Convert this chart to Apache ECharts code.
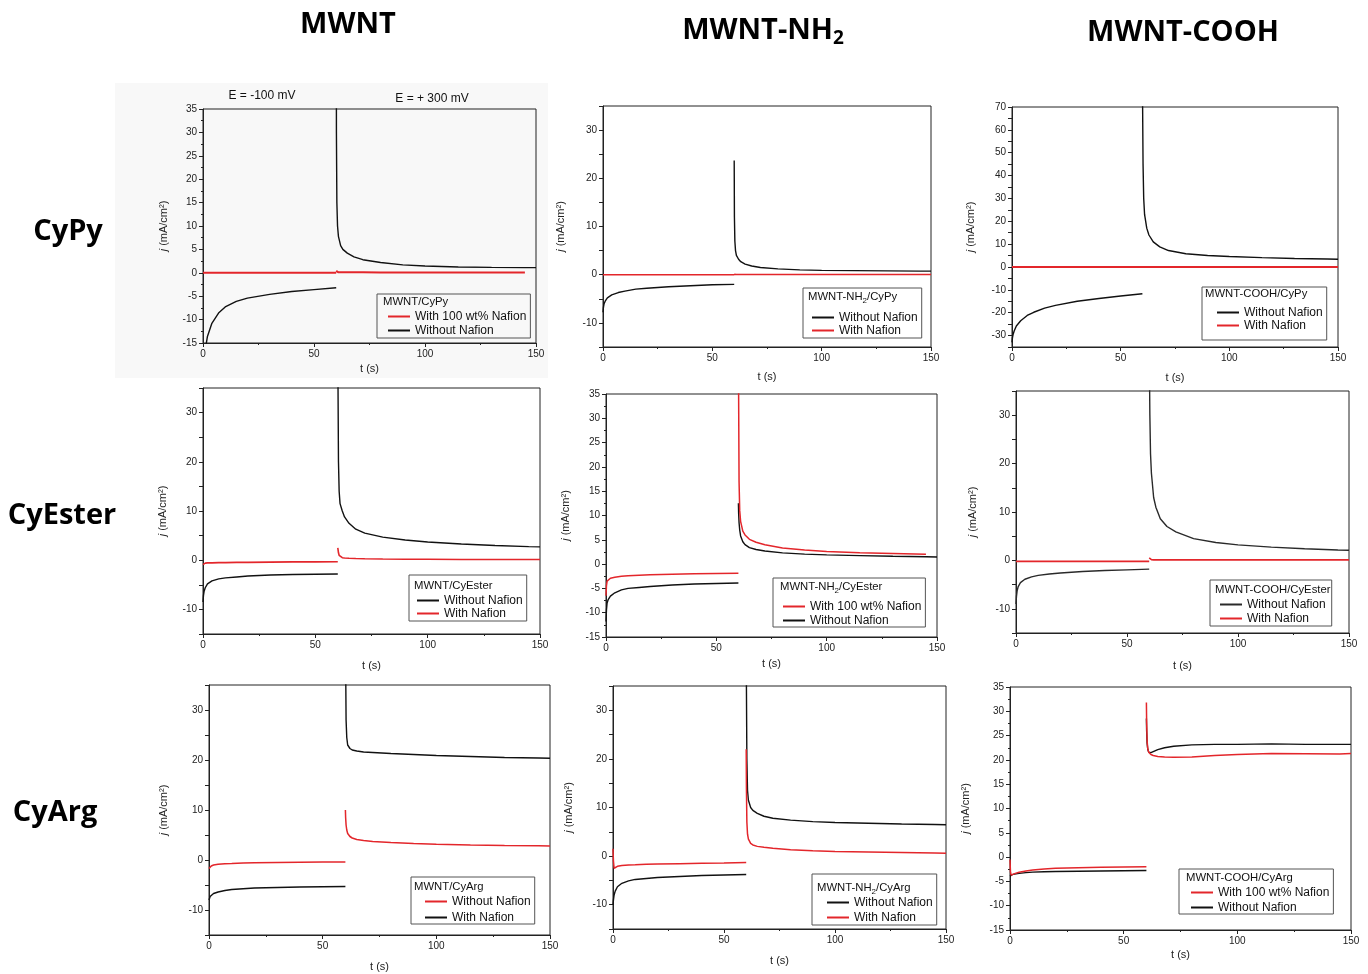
<!DOCTYPE html>
<html><head><meta charset="utf-8">
<script src="https://cdn.jsdelivr.net/npm/echarts@6/dist/echarts.min.js"></script>
<style>html,body{margin:0;padding:0;background:#fff}#c{width:1368px;height:974px}</style>
</head><body><div id="c"></div>
<script>
// ---------- data ----------
const xTicks = [0, 50, 100, 150];
const tPre  = [0, 0.2, 0.5, 1, 2, 4, 7, 10, 15, 20, 30, 40, 50, 60];
const tPost = [60, 60.1, 60.3, 60.6, 61, 62, 63, 65, 68, 72, 80, 90, 100, 115, 130, 145, 150];

// MWNT / CyPy
const p1BlackPre  = [-30, -22, -19, -16.5, -13.6, -10.8, -8.6, -7.3, -6.1, -5.4, -4.6, -4.0, -3.6, -3.2];
const p1BlackPost = [80, 30, 15, 10, 7.8, 5.8, 5.0, 4.2, 3.4, 2.8, 2.2, 1.7, 1.45, 1.25, 1.15, 1.1, 1.1];
const p1RedPre    = [0, 0, 0, 0, 0, 0, 0, 0, 0, 0, 0, 0, 0, 0];
const p1RedPost   = [0.4, 0.3, 0.2, 0.15, 0.1, 0.1, 0.1, 0.1, 0.1, 0.1, 0.05, 0.05, 0.05, 0.05, 0.05, 0.05, null];
// MWNT-NH2 / CyPy
const p2BlackPre  = [-7.8, -6.8, -6.0, -5.5, -4.8, -4.2, -3.7, -3.4, -3.0, -2.8, -2.5, -2.3, -2.1, -2.0];
const p2BlackPost = [23.7, 12, 7, 5.0, 4.0, 3.2, 2.7, 2.2, 1.8, 1.5, 1.2, 1.0, 0.9, 0.85, 0.8, 0.75, 0.75];
const p2RedPre    = [0, 0, 0, 0, 0, 0, 0, 0, 0, 0, 0, 0, 0, 0];
const p2RedPost   = [0.1, 0.1, 0.05, 0.05, 0.05, 0.05, 0.05, 0.05, 0.05, 0.05, 0.05, 0.05, 0.05, 0.05, 0.05, 0.05, 0.05];
// MWNT-COOH / CyPy
const p3BlackPre  = [-33, -31, -29.5, -28, -25.8, -23.5, -21.2, -19.8, -18, -16.8, -15, -13.8, -12.7, -11.7];
const p3BlackPost = [110, 70, 45, 30, 23, 17, 14, 11, 8.8, 7.2, 5.8, 5.0, 4.6, 4.1, 3.7, 3.5, 3.4];
const p3RedPre    = [0, 0, 0, 0, 0, 0, 0, 0, 0, 0, 0, 0, 0, 0];
const p3RedPost   = [0, 0, 0, 0, 0, 0, 0, 0, 0, 0, 0, 0, 0, 0, 0, 0, 0];
// MWNT / CyEster
const p4BlackPre  = [-8.5, -7.2, -6.3, -5.6, -4.8, -4.2, -3.8, -3.6, -3.4, -3.2, -3.0, -2.9, -2.85, -2.8];
const p4BlackPost = [60, 35, 20, 14, 11.5, 10.0, 8.8, 7.5, 6.3, 5.5, 4.7, 4.1, 3.7, 3.3, 3.0, 2.75, 2.7];
const p4RedPre    = [-0.9, -0.7, -0.6, -0.6, -0.55, -0.55, -0.5, -0.5, -0.45, -0.45, -0.4, -0.35, -0.35, -0.3];
const p4RedPost   = [2.5, 2.2, 1.5, 1.0, 0.7, 0.5, 0.45, 0.4, 0.35, 0.3, 0.25, 0.2, 0.2, 0.15, 0.15, 0.15, 0.15];
// MWNT-NH2 / CyEster
const p5RedPre    = [-6.5, -4.5, -3.5, -3.2, -2.9, -2.7, -2.5, -2.4, -2.3, -2.2, -2.1, -2.0, -1.95, -1.9];
const p5RedPost   = [60, 35, 17, 11, 8.8, 6.8, 6.0, 5.1, 4.5, 4.0, 3.3, 2.9, 2.6, 2.35, 2.2, 2.05, null];
const p5BlackPre  = [-11.8, -9.5, -8.0, -7.3, -6.6, -5.9, -5.3, -5.0, -4.8, -4.6, -4.3, -4.1, -4.0, -3.9];
const p5BlackPost = [12.5, 10.5, 8.5, 7.0, 5.8, 4.6, 4.0, 3.4, 3.0, 2.7, 2.3, 2.05, 1.9, 1.75, 1.6, 1.5, 1.45];
// MWNT-COOH / CyEster
const p6BlackPre  = [-9, -7.5, -6.3, -5.4, -4.6, -3.9, -3.4, -3.1, -2.8, -2.6, -2.3, -2.1, -1.95, -1.8];
const p6BlackPost = [60, 40, 30, 22, 18, 13, 11, 8.6, 7.0, 5.9, 4.5, 3.7, 3.2, 2.75, 2.4, 2.15, 2.1];
const p6RedPre    = [-0.2, -0.2, -0.2, -0.2, -0.2, -0.2, -0.2, -0.2, -0.2, -0.2, -0.2, -0.2, -0.2, -0.2];
const p6RedPost   = [0.5, 0.4, 0.3, 0.2, 0.15, 0.1, 0.1, 0.1, 0.1, 0.1, 0.1, 0.1, 0.1, 0.1, 0.1, 0.1, 0.1];
// MWNT / CyArg
const p7RedPre    = [-1.7, -1.5, -1.3, -1.2, -1.0, -0.85, -0.75, -0.7, -0.6, -0.55, -0.5, -0.45, -0.42, -0.4];
const p7RedPost   = [10, 8.5, 7.0, 6.0, 5.3, 4.7, 4.4, 4.1, 3.9, 3.7, 3.5, 3.3, 3.15, 3.0, 2.9, 2.85, 2.8];
const p7BlackPre  = [-8.0, -7.6, -7.3, -7.0, -6.7, -6.4, -6.1, -5.9, -5.75, -5.6, -5.5, -5.4, -5.35, -5.3];
const p7BlackPost = [60, 40, 28, 24.5, 23, 22.3, 22.0, 21.8, 21.6, 21.5, 21.3, 21.1, 20.9, 20.7, 20.5, 20.4, 20.35];
// MWNT-NH2 / CyArg
const p8BlackPre  = [-10, -9, -8, -7.2, -6.3, -5.6, -5.1, -4.8, -4.6, -4.4, -4.2, -4.0, -3.9, -3.8];
const p8BlackPost = [60, 35, 20, 13.5, 11.5, 10.0, 9.4, 8.8, 8.2, 7.8, 7.4, 7.1, 6.9, 6.75, 6.6, 6.5, 6.45];
const p8RedPre    = [1.5, -1.0, -2.5, -2.3, -2.1, -1.95, -1.85, -1.8, -1.7, -1.65, -1.55, -1.45, -1.4, -1.3];
const p8RedPost   = [22, 14, 7, 4.5, 3.5, 2.6, 2.3, 2.0, 1.8, 1.6, 1.3, 1.1, 0.95, 0.85, 0.75, 0.65, 0.6];
// MWNT-COOH / CyArg
const p9RedPre    = [-0.5, -3.0, -3.7, -3.6, -3.4, -3.1, -2.85, -2.65, -2.45, -2.3, -2.2, -2.1, -2.05, -2.0];
const p9RedPost   = [31.8, 28, 24, 22.3, 21.6, 21.1, 20.9, 20.7, 20.6, 20.55, 20.6, 20.9, 21.1, 21.3, 21.25, 21.2, 21.3];
const p9BlackPre  = [-3.9, -3.8, -3.7, -3.6, -3.5, -3.35, -3.2, -3.1, -3.0, -2.95, -2.9, -2.85, -2.8, -2.75];
const p9BlackPost = [28.5, 26, 23.5, 22.2, 21.6, 21.5, 21.7, 22.1, 22.5, 22.8, 23.1, 23.2, 23.2, 23.3, 23.2, 23.2, 23.2];

const colHeaders = ['MWNT', 'MWNT-NH', 'MWNT-COOH'];
const rowHeaders = ['CyPy', 'CyEster', 'CyArg'];

// ---------- styles / layout ----------
const FONT = '"Liberation Sans", Arial, sans-serif';
const HFONT = '"Open Sans", "Noto Sans", sans-serif';
const BLACK = '#111111', RED = '#e3262b', INK = '#222';
const N1 = 'With 100 wt% Nafion', N0 = 'Without Nafion', NW = 'With Nafion';

const panels = [
  {g:[203,109,333,234], y:[-15,35], lab:5,  yGap:34, xGap:20, leg:[377,294,[16,4,1,11],1], lt:[383,302,'MWNT/CyPy'],
   s:[[N1,RED,p1RedPre,p1RedPost,2],[N0,BLACK,p1BlackPre,p1BlackPost,1.4]]},
  {g:[603,106,328,241], y:[-15,35], lab:10, yGap:37, xGap:24, leg:[803,288,[23,4,1,9],0], lt:[808,297,'MWNT-NH','/CyPy'],
   s:[[N0,BLACK,p2BlackPre,p2BlackPost,1.4],[NW,RED,p2RedPre,p2RedPost,1.6]]},
  {g:[1012,107,326,240], y:[-35,70], lab:10, yGap:36, xGap:25, leg:[1202,287,[19,4,8,15],0], lt:[1205,294,'MWNT-COOH/CyPy'],
   s:[[N0,BLACK,p3BlackPre,p3BlackPost,1.4],[NW,RED,p3RedPre,p3RedPost,1.8]]},
  {g:[203,388,337,246], y:[-15,35], lab:10, yGap:35, xGap:26, leg:[409,575,[19,4,1,8],0], lt:[414,586,'MWNT/CyEster'],
   s:[[N0,BLACK,p4BlackPre,p4BlackPost,1.4],[NW,RED,p4RedPre,p4RedPost,1.6]]},
  {g:[606,394,331,243], y:[-15,35], lab:5,  yGap:35, xGap:21, leg:[773,578,[22,4,0,10],1], lt:[780,587,'MWNT-NH','/CyEster'],
   s:[[N1,RED,p5RedPre,p5RedPost,1.5],[N0,BLACK,p5BlackPre,p5BlackPost,1.4]]},
  {g:[1016,391,333,242], y:[-15,35], lab:10, yGap:38, xGap:27, leg:[1210,580,[18,6,1,10],1], lt:[1215,590,'MWNT-COOH/CyEster'],
   s:[[N0,'#2a2a2a',p6BlackPre,p6BlackPost,1.4],[NW,RED,p6RedPre,p6RedPost,1.6]]},
  {g:[209,685,341,250], y:[-15,35], lab:10, yGap:40, xGap:26, leg:[411,877,[18,4,0,14],3], lt:[414,887,'MWNT/CyArg'],
   s:[[N0,RED,p7RedPre,p7RedPost,1.5],[NW,BLACK,p7BlackPre,p7BlackPost,1.4]]},
  {g:[613,686,333,243], y:[-15,35], lab:10, yGap:39, xGap:26, leg:[812,874,[22,4,1,15],2], lt:[817,888,'MWNT-NH','/CyArg'],
   s:[[N0,BLACK,p8BlackPre,p8BlackPost,1.4],[NW,RED,p8RedPre,p8RedPost,1.5]]},
  {g:[1010,687,341,243], y:[-15,35], lab:5,  yGap:39, xGap:19, leg:[1179,869,[17,4,0,12],2], lt:[1186,878,'MWNT-COOH/CyArg'],
   s:[[N1,RED,p9RedPre,p9RedPost,1.5],[N0,BLACK,p9BlackPre,p9BlackPost,1.4]]}
];

function buildData(pre, post) {
  const d = [];
  tPre.forEach((t, i) => d.push([t, pre[i]]));
  d.push([60, null]);
  tPost.forEach((t, i) => { if (post[i] !== null) d.push([t, post[i]]); });
  return d;
}

const grid = [], xAxis = [], yAxis = [], series = [], legend = [], graphics = [];
const tickStyle = {color: INK, width: 1};

panels.forEach((p, i) => {
  grid.push({left: p.g[0], top: p.g[1], width: p.g[2], height: p.g[3], show: true,
    borderColor: INK, borderWidth: 1, backgroundColor: 'transparent'});
  xAxis.push({type: 'value', gridIndex: i, min: xTicks[0], max: xTicks[xTicks.length - 1], interval: xTicks[1] - xTicks[0],
    name: 't (s)', nameLocation: 'middle', nameGap: p.xGap,
    nameTextStyle: {fontSize: 11, color: INK, fontFamily: FONT},
    axisLine: {show: true, onZero: false, lineStyle: tickStyle},
    axisTick: {show: true, length: 4, lineStyle: tickStyle},
    minorTick: {show: true, splitNumber: 2, length: 2, lineStyle: tickStyle},
    splitLine: {show: false},
    axisLabel: {fontSize: 10, color: INK, margin: 6, fontFamily: FONT}});
  yAxis.push({type: 'value', gridIndex: i, min: p.y[0], max: p.y[1], interval: 5,
    name: '{i|j} (mA/cm²)', nameLocation: 'middle', nameRotate: 90, nameGap: p.yGap,
    nameTextStyle: {fontSize: 11, color: INK, fontFamily: FONT,
      rich: {i: {fontStyle: 'italic', fontSize: 11, color: INK, fontFamily: FONT}}},
    axisLine: {show: true, onZero: false, lineStyle: tickStyle},
    axisTick: {show: true, length: 4, lineStyle: tickStyle},
    minorTick: {show: p.lab === 5, splitNumber: 2, length: 2, lineStyle: tickStyle},
    splitLine: {show: false},
    axisLabel: {fontSize: 10, color: INK, margin: 6, fontFamily: FONT,
      formatter: v => (v % p.lab === 0 ? String(v) : '')}});
  // draw black curves below red
  p.s.slice().sort((a, b) => (a[1] === RED) - (b[1] === RED)).forEach(s => {
    series.push({type: 'line', name: s[0], xAxisIndex: i, yAxisIndex: i, data: buildData(s[2], s[3]),
      showSymbol: false, symbol: 'none', connectNulls: false, clip: true, smooth: false,
      lineStyle: {color: s[1], width: s[4]}, itemStyle: {color: s[1]}, z: 2});
  });
  legend.push({left: p.leg[0], top: p.leg[1], orient: 'vertical', padding: p.leg[2], itemGap: p.leg[3],
    itemWidth: 22, itemHeight: 2, icon: 'rect', selectedMode: false,
    borderColor: '#555', borderWidth: 1, backgroundColor: 'transparent',
    textStyle: {fontSize: 12, lineHeight: 13, color: '#111', fontFamily: FONT},
    data: p.s.map(s => ({name: s[0], itemStyle: {color: s[1], borderWidth: 0}}))});
  // legend title
  const lt = p.lt;
  const txt = lt.length === 4 ? '{t|' + lt[2] + '}{s|2}{t|' + lt[3] + '}' : '{t|' + lt[2] + '}';
  graphics.push({type: 'text', x: lt[0], y: lt[1], silent: true,
    style: {text: txt, align: 'left', verticalAlign: 'middle',
      rich: {t: {fontSize: 11.3, fontFamily: FONT, fill: '#111', color: '#111', lineHeight: 14},
             s: {fontSize: 8, fontFamily: FONT, fill: '#111', color: '#111', lineHeight: 14, padding: [7, 0, 0, 0]}}}});
});

// column / row headers
const headStyle = {fontSize: 29, fontWeight: 'bold', fontFamily: HFONT, fill: '#000', color: '#000'};
const colPos = [[348, 25], [763, 31], [1183, 33]];
colHeaders.forEach((h, i) => {
  const txt = i === 1 ? '{b|' + h + '}{s|2}' : '{b|' + h + '}';
  graphics.push({type: 'text', x: colPos[i][0], y: colPos[i][1], silent: true,
    style: {text: txt, align: 'center', verticalAlign: 'middle',
      rich: {b: Object.assign({lineHeight: 34}, headStyle),
             s: Object.assign({}, headStyle, {fontSize: 19, lineHeight: 34, padding: [16, 0, 0, 0]})}}});
});
const rowPos = [[68, 232], [62, 516], [55, 813]];
rowHeaders.forEach((h, i) => {
  graphics.push({type: 'text', x: rowPos[i][0], y: rowPos[i][1], silent: true,
    style: Object.assign({text: h, align: 'center', verticalAlign: 'middle'}, headStyle)});
});
// potential annotations
graphics.push({type: 'text', x: 262, y: 96, silent: true,
  style: {text: 'E = -100 mV', align: 'center', verticalAlign: 'middle', fontSize: 12, fontFamily: FONT, fill: '#111'}});
graphics.push({type: 'text', x: 432, y: 99, silent: true,
  style: {text: 'E = + 300 mV', align: 'center', verticalAlign: 'middle', fontSize: 12, fontFamily: FONT, fill: '#111'}});
// faint scan background behind first panel
graphics.push({type: 'rect', shape: {x: 115, y: 83, width: 433, height: 295}, silent: true, z: -10,
  style: {fill: '#f8f8f8'}});

const chart = echarts.init(document.getElementById('c'), null, {renderer: 'canvas'});
chart.setOption({animation: false, backgroundColor: '#fff', grid, xAxis, yAxis, series, legend, graphic: graphics});
</script></body></html>
